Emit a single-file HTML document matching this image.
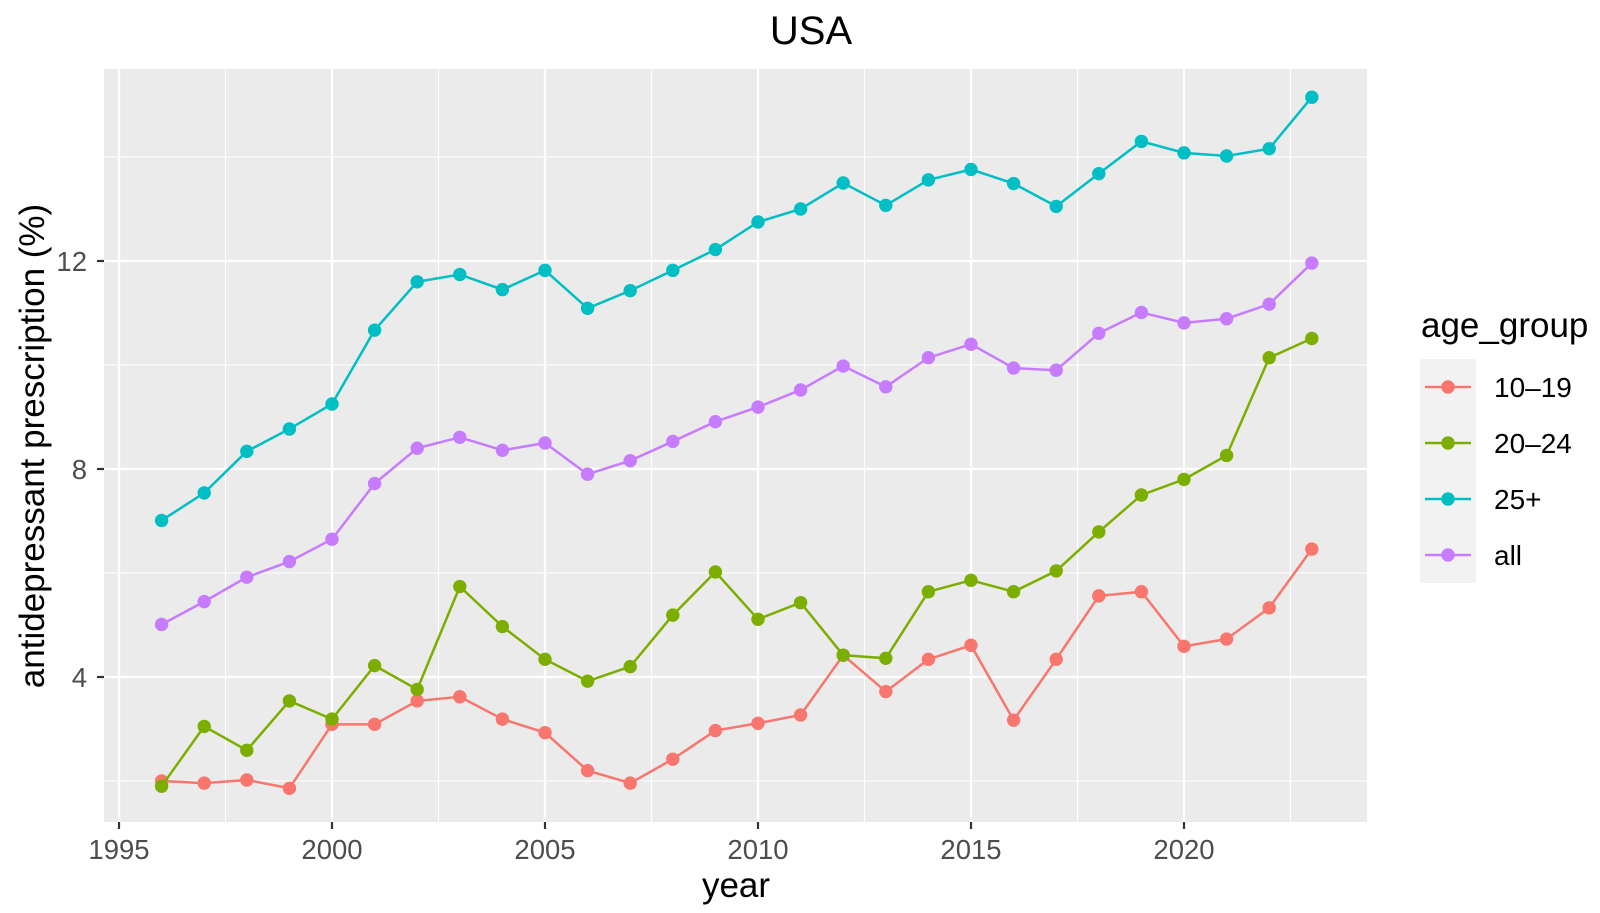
<!DOCTYPE html>
<html><head><meta charset="utf-8"><style>
body{margin:0;background:#fff;}
svg{display:block;font-family:"Liberation Sans",sans-serif;}
</style></head><body>
<svg id="chart" width="1600" height="913" viewBox="0 0 1600 913"></svg>
<script>
const years=[1996,1997,1998,1999,2000,2001,2002,2003,2004,2005,2006,2007,2008,2009,2010,2011,2012,2013,2014,2015,2016,2017,2018,2019,2020,2021,2022,2023];
const s1019=[2.0,1.96,2.02,1.86,3.09,3.09,3.54,3.62,3.19,2.93,2.2,1.96,2.42,2.97,3.11,3.27,4.42,3.72,4.34,4.61,3.17,4.34,5.56,5.64,4.59,4.73,5.33,6.46];
const s2024=[1.9,3.05,2.59,3.54,3.19,4.22,3.76,5.74,4.97,4.34,3.92,4.2,5.19,6.02,5.11,5.43,4.42,4.36,5.64,5.86,5.64,6.04,6.79,7.5,7.8,8.26,10.14,10.51];
const s25=[7.01,7.54,8.34,8.77,9.25,10.67,11.6,11.74,11.45,11.82,11.09,11.43,11.82,12.22,12.75,13.0,13.5,13.07,13.56,13.76,13.49,13.05,13.68,14.3,14.08,14.02,14.16,15.15];
const sAll=[5.01,5.45,5.92,6.22,6.65,7.72,8.4,8.61,8.36,8.5,7.9,8.16,8.53,8.91,9.19,9.52,9.98,9.58,10.14,10.4,9.94,9.9,10.61,11.01,10.81,10.89,11.17,11.96];
const seriesNames=["10\u201319","20\u201324","25+","all"];
const colors=["#F8766D","#7CAE00","#00BFC4","#C77CFF"];
const xTicks=[1995,2000,2005,2010,2015,2020];
const yTicks=[4,8,12];
const yMinor=[2,6,10,14];

const NS="http://www.w3.org/2000/svg";
const svg=document.getElementById('chart');
const X=v=>119+(v-1995)*42.6;
const Y=v=>261+(12-v)*52;
const P={x0:104,x1:1367,y0:69,y1:822};
function mk(t,a,p){const e=document.createElementNS(NS,t);for(const k in a)e.setAttribute(k,a[k]);(p||svg).appendChild(e);return e;}

const panel=mk('rect',{x:P.x0,y:P.y0,width:P.x1-P.x0,height:P.y1-P.y0,fill:'#EBEBEB'});


for(let i=0;i<xTicks.length;i++){const v=xTicks[i]+2.5;if(X(v)<P.x1){const l=mk('line',{x1:X(v),x2:X(v),y1:P.y0,y2:P.y1,stroke:'#fff','stroke-width':1.1});

}}
yMinor.forEach(v=>{const l=mk('line',{x1:P.x0,x2:P.x1,y1:Y(v),y2:Y(v),stroke:'#fff','stroke-width':1.1});

});
xTicks.forEach(v=>{const l=mk('line',{x1:X(v),x2:X(v),y1:P.y0,y2:P.y1,stroke:'#fff','stroke-width':2.3});


const t=mk('line',{x1:X(v),x2:X(v),y1:P.y1,y2:P.y1+7,stroke:'#333','stroke-width':2.2});


const tx=mk('text',{x:X(v),y:859,'text-anchor':'middle','font-size':27.5,fill:'#4D4D4D'});tx.textContent=v;

});
yTicks.forEach(v=>{const l=mk('line',{x1:P.x0,x2:P.x1,y1:Y(v),y2:Y(v),stroke:'#fff','stroke-width':2.3});


const t=mk('line',{x1:P.x0-7,x2:P.x0,y1:Y(v),y2:Y(v),stroke:'#333','stroke-width':2.2});


const tx=mk('text',{x:87,y:Y(v)+10,'text-anchor':'end','font-size':27.5,fill:'#4D4D4D'});tx.textContent=v;

});

const data=[s1019,s2024,s25,sAll];
data.forEach((s,i)=>{
  const g=mk('g',{});
  
  
  const pl=mk('polyline',{points:s.map((v,j)=>X(years[j])+','+Y(v)).join(' '),fill:'none',stroke:colors[i],'stroke-width':2.5},g);
  
  
  s.forEach((v,j)=>{const c=mk('circle',{cx:X(years[j]),cy:Y(v),r:6.7,fill:colors[i]},g);
  
  });
});

const title=mk('text',{x:811,y:44,'text-anchor':'middle','font-size':40,fill:'#000'});title.textContent='USA';


const xt=mk('text',{x:736,y:897,'text-anchor':'middle','font-size':35,fill:'#000'});xt.textContent='year';


const yt=mk('text',{x:0,y:0,'text-anchor':'middle','font-size':35,fill:'#000',transform:'translate(44,446) rotate(-90)'});yt.textContent='antidepressant prescription (%)';



const lg=mk('g',{});


const lt=mk('text',{x:1421,y:337,'font-size':35,fill:'#000'},lg);lt.textContent='age_group';


seriesNames.forEach((n,i)=>{
  const cy=359+28+i*56;
  const e=mk('g',{},lg);
  
  
  mk('rect',{x:1420,y:cy-28,width:56,height:56,fill:'#F2F2F2'},e);
  mk('line',{x1:1425,x2:1471,y1:cy,y2:cy,stroke:colors[i],'stroke-width':2.5},e);
  mk('circle',{cx:1448,cy:cy,r:6.7,fill:colors[i]},e);
  const t=mk('text',{x:1494,y:cy+10,'font-size':28,fill:'#000'},e);t.textContent=n;
});
</script>
</body></html>
